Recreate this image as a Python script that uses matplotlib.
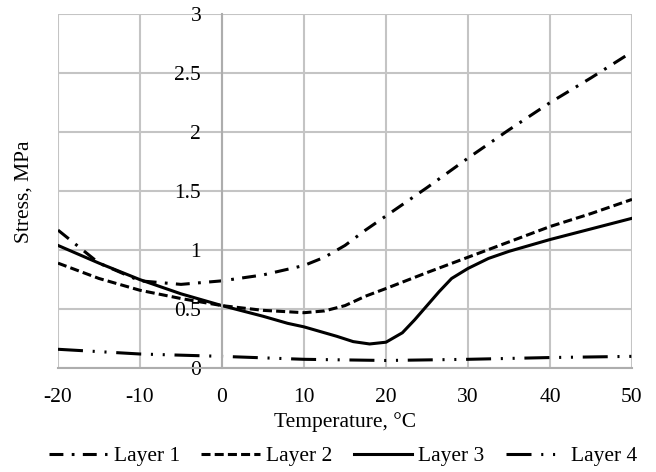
import matplotlib.pyplot as plt

plt.rcParams['font.family'] = ['Liberation Serif', 'DejaVu Serif']
plt.rcParams['lines.scale_dashes'] = False
plt.rcParams['axes.unicode_minus'] = False

# Temperature, °C / Stress, MPa
temp1 = [-20, -15, -10, -5, 0, 5, 10, 12.5, 15, 17.5, 20, 25, 30, 35, 40, 45, 50]
layer1 = [1.17, 0.89, 0.74, 0.71, 0.74, 0.79, 0.87, 0.94, 1.04, 1.17, 1.29, 1.53, 1.78, 2.02, 2.25, 2.46, 2.68]

temp2 = [-20, -15, -10, -5, 0, 5, 10, 12.5, 15, 17.5, 20, 25, 30, 35, 40, 45, 50]
layer2 = [0.89, 0.76, 0.66, 0.59, 0.53, 0.49, 0.47, 0.485, 0.53, 0.61, 0.675, 0.81, 0.94, 1.07, 1.20, 1.31, 1.43]

temp3 = [-20, -15, -10, -5, 0, 5, 8, 10, 12, 14, 16, 18, 20, 22, 23.5, 25, 26.5, 28, 30, 32.5, 35, 40, 45, 50]
layer3 = [1.04, 0.89, 0.75, 0.63, 0.53, 0.44, 0.38, 0.35, 0.31, 0.27, 0.225, 0.205, 0.22, 0.30, 0.41,
          0.53, 0.65, 0.76, 0.845, 0.93, 0.99, 1.09, 1.18, 1.27]

temp4 = [-20, -10, 0, 10, 20, 30, 40, 50]
layer4 = [0.16, 0.12, 0.10, 0.075, 0.065, 0.075, 0.09, 0.10]

fig = plt.figure(figsize=(6.56, 4.72), dpi=100)
ax = fig.add_axes([0.0884, 0.220, 0.875, 0.750])

lw = 2.2
ax.plot(temp1, layer1, color='black', lw=lw, dashes=(10, 6, 2, 6), label='Layer 1')
ax.plot(temp2, layer2, color='black', lw=lw, dashes=(6.5, 3), label='Layer 2')
ax.plot(temp3, layer3, color='black', lw=lw, label='Layer 3')
ax.plot(temp4, layer4, color='black', lw=lw, dashes=(18, 7, 1.5, 7, 1.5, 7), label='Layer 4')

ax.set_xlim(-20, 50)
ax.set_ylim(0, 3)
ax.set_xticks(range(-20, 51, 10))
ax.set_yticks([0, 0.5, 1, 1.5, 2, 2.5, 3])
ax.set_yticklabels(['0', '0.5', '1', '1.5', '2', '2.5', '3'])
ax.grid(True, color='#c4c4c4', lw=1.5)
ax.set_axisbelow(True)

for s in ['top', 'right']:
    ax.spines[s].set_visible(False)
ax.spines['left'].set_position(('data', 0))
ax.spines['left'].set_color('#adadad')
ax.spines['left'].set_linewidth(1.5)
ax.spines['bottom'].set_color('#adadad')
ax.spines['bottom'].set_linewidth(1.5)
ax.tick_params(length=0, labelsize=15.5)
ax.tick_params(axis='x', pad=14)
ax.tick_params(axis='y', pad=15)

fig.text(0.5259, 0.106, 'Temperature, °C', ha='center', va='center', fontsize=15.5)
fig.text(0.037, 0.593, 'Stress, MPa', ha='center', va='center', rotation=90, fontsize=15.5)

fig.legend(loc='center', bbox_to_anchor=(0.523, 0.033), ncol=4, frameon=False,
           fontsize=15.5, handlelength=2.7, columnspacing=1.0, handletextpad=0.3,
           borderaxespad=0, borderpad=0)

fig.savefig('out.png', dpi=100)
